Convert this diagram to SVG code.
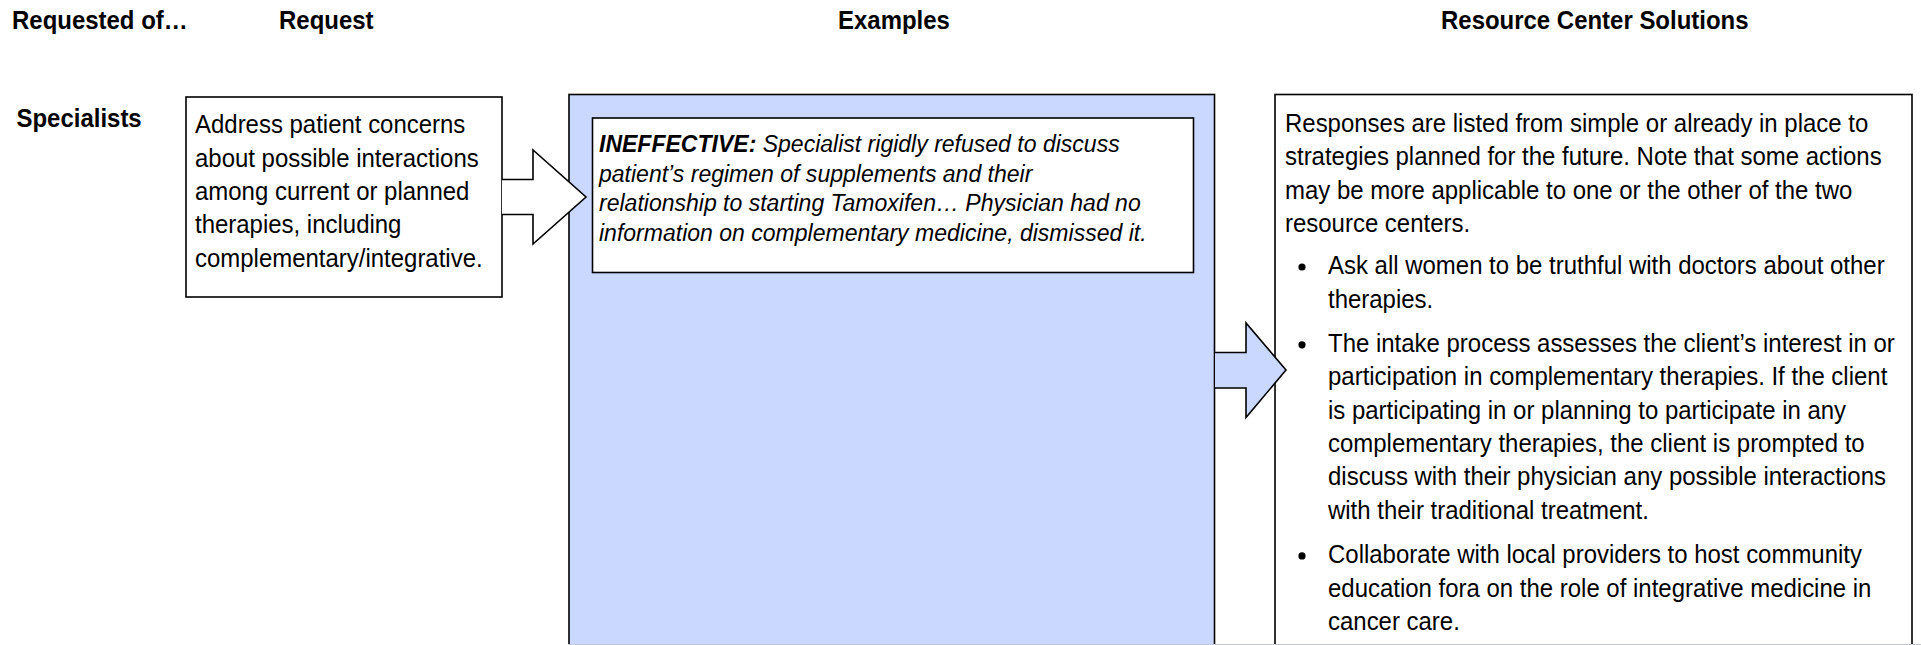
<svg xmlns="http://www.w3.org/2000/svg" width="1921" height="645" viewBox="0 0 1921 645">
  <style>
    .txt { font-family: "Liberation Sans", Arial, sans-serif; font-size: 25.5px; fill: #000; }
    .small { font-size: 24.5px; }
    .hdr { font-weight: bold; }
    .it { font-style: italic; }
    .box { fill: #fff; stroke: #000; stroke-width: 1.6; }
    .blue { fill: #cad7ff; stroke: #000; stroke-width: 1.6; }
    .arrowW { fill: #fff; stroke: #000; stroke-width: 1.6; stroke-linejoin: miter; }
    .arrowB { fill: #cad7ff; stroke: #000; stroke-width: 1.6; stroke-linejoin: miter; }
    .dot { fill: #000; }
  </style>

  <rect width="1921" height="645" fill="#fff"/>

  <!-- column headings -->
  <g id="headings" class="txt hdr">
    <g transform="translate(12 0) scale(0.94 1)"><text x="0" y="29">Requested of…</text></g>
    <g transform="translate(279 0) scale(0.94 1)"><text x="0" y="29">Request</text></g>
    <g transform="translate(838 0) scale(0.94 1)"><text x="0" y="29">Examples</text></g>
    <g transform="translate(1441 0) scale(0.94 1)"><text x="0" y="29">Resource Center Solutions</text></g>
  </g>

  <!-- row label -->
  <g id="row-specialists" class="txt hdr">
    <g transform="translate(16.5 0) scale(0.94 1)"><text x="0" y="127.5">Specialists</text></g>
  </g>

  <!-- request node -->
  <g id="request">
    <rect class="box" x="186" y="97" width="316" height="200"/>
    <g class="txt" transform="translate(195 0) scale(0.94 1)">
      <text x="0" y="133.3">Address patient concerns</text>
      <text x="0" y="166.6">about possible interactions</text>
      <text x="0" y="200">among current or planned</text>
      <text x="0" y="233.3">therapies, including</text>
      <text x="0" y="266.6">complementary/integrative.</text>
    </g>
  </g>

  <!-- examples column -->
  <g id="examples">
    <rect class="blue" x="569" y="94.5" width="645.5" height="560"/>
    <g id="example-ineffective">
      <rect class="box" x="592.5" y="118" width="601" height="154.5"/>
      <g class="txt small it" transform="translate(599 0) scale(0.94 1)">
        <text x="0" y="152"><tspan font-weight="bold">INEFFECTIVE:</tspan> Specialist rigidly refused to discuss</text>
        <text x="0" y="181.7">patient’s regimen of supplements and their</text>
        <text x="0" y="211.4">relationship to starting Tamoxifen… Physician had no</text>
        <text x="0" y="241">information on complementary medicine, dismissed it.</text>
      </g>
    </g>
  </g>

  <!-- solutions node -->
  <g id="solutions">
    <rect class="box" x="1275" y="94.5" width="637" height="560"/>
    <g class="txt" transform="translate(1285 0) scale(0.94 1)">
      <text x="0" y="132">Responses are listed from simple or already in place to</text>
      <text x="0" y="165.3">strategies planned for the future. Note that some actions</text>
      <text x="0" y="198.6">may be more applicable to one or the other of the two</text>
      <text x="0" y="232">resource centers.</text>
    </g>
    <g class="txt" transform="translate(1328 0) scale(0.94 1)">
      <text x="0" y="274.4">Ask all women to be truthful with doctors about other</text>
      <text x="0" y="307.8">therapies.</text>
      <text x="0" y="352.2">The intake process assesses the client’s interest in or</text>
      <text x="0" y="385.5">participation in complementary therapies. If the client</text>
      <text x="0" y="418.9">is participating in or planning to participate in any</text>
      <text x="0" y="452.2">complementary therapies, the client is prompted to</text>
      <text x="0" y="485.5">discuss with their physician any possible interactions</text>
      <text x="0" y="518.9">with their traditional treatment.</text>
      <text x="0" y="563.3">Collaborate with local providers to host community</text>
      <text x="0" y="596.7">education fora on the role of integrative medicine in</text>
      <text x="0" y="630">cancer care.</text>
    </g>
    <circle class="dot" cx="1302" cy="267" r="3.6"/>
    <circle class="dot" cx="1302" cy="344.8" r="3.6"/>
    <circle class="dot" cx="1302" cy="555.9" r="3.6"/>
  </g>

  <!-- block-arrow connectors -->
  <g id="connectors">
    <path class="arrowW" d="M502 179.5 H533 V150 L586 197 L533 244 V214.5 H502"/>
    <path class="arrowB" d="M1215 352.5 H1246 V323 L1286 370 L1246 417.5 V388 H1215"/>
  </g>

  <!-- page edge along the bottom -->
  <line x1="568" y1="644.5" x2="1921" y2="644.5" stroke="#c4c8d2" stroke-width="1"/>
</svg>
